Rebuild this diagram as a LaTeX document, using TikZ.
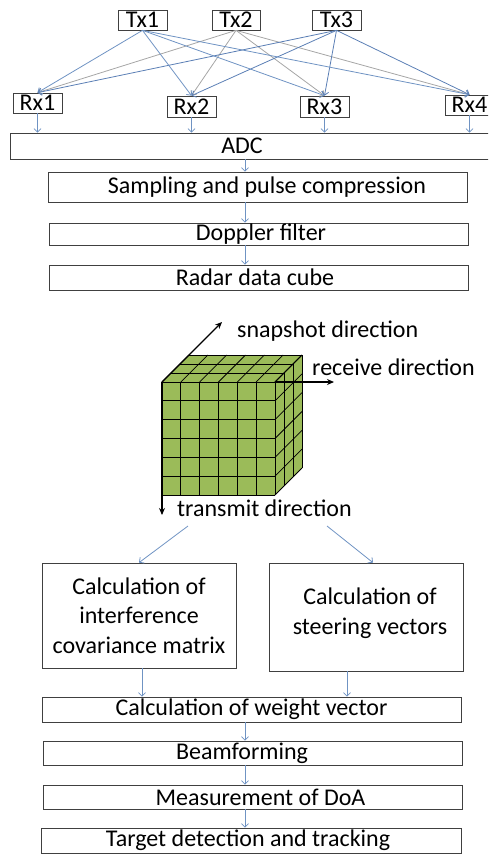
\documentclass[tikz,border=0pt]{standalone}
\usepackage{fontspec}
\setmainfont{Carlito}
\usetikzlibrary{arrows.meta}
\definecolor{lblue}{HTML}{6F93C3}
\definecolor{dblue}{HTML}{5B7FB5}
\definecolor{lgray}{HTML}{A6A6A6}
\definecolor{cgreen}{HTML}{9BBB59}
\definecolor{bdr}{HTML}{404040}
\begin{document}
\begin{tikzpicture}[x=1pt,y=-1pt,
  txt/.style={font=\fontsize{24}{29.5}\selectfont, inner sep=0pt},
  box/.style={draw=bdr, line width=0.7pt, inner sep=0pt, txt},
  conn/.style={draw=lblue, line width=0.8pt, -{Straight Barb[length=3.5pt,width=7pt]}},
  gconn/.style={draw=lgray, line width=0.8pt, -{Straight Barb[length=3.5pt,width=7pt]}},
  bconn/.style={draw=dblue, line width=0.8pt, -{Straight Barb[length=3.5pt,width=7pt]}},
  axis/.style={draw=black, line width=1.1pt, -{Stealth[length=7pt,width=6pt]}},
  grid/.style={draw=black, line width=0.8pt}]
\useasboundingbox (0,0) rectangle (488,854);
\clip (0,0) rectangle (488,854);
% transmitters and receivers
\node[box, minimum width=49pt, minimum height=20pt] (tx1) at (142.5,20) {Tx1};
\node[box, minimum width=48pt, minimum height=20pt] (tx2) at (236,20) {Tx2};
\node[box, minimum width=49pt, minimum height=20pt] (tx3) at (336.5,20) {Tx3};
\node[box, minimum width=49pt, minimum height=20pt] (rx1) at (37.5,103) {Rx1};
\node[box, minimum width=49pt, minimum height=21pt] (rx2) at (191.5,106.5) {Rx2};
\node[box, minimum width=49pt, minimum height=21pt] (rx3) at (324.5,106.5) {Rx3};
\node[box, minimum width=49pt, minimum height=20pt] (rx4) at (469.5,105) {Rx4};
\foreach \r in {rx1,rx2,rx3,rx4}{
  \draw[gconn] (tx2.south) -- (\r.north);
}
\foreach \r in {rx1,rx2,rx3,rx4}{
  \draw[conn] (tx1.south) -- (\r.north);
  \draw[bconn] (tx3.south) -- (\r.north);
}
% processing chain
\node[box, minimum width=490pt, minimum height=26pt] (adc) at (255,146) {};
\node[txt] (adct) at (242,146) {ADC};
\node[box, minimum width=419pt, minimum height=30pt] (samp) at (257.5,187) {};
\node[txt] (sampt) at (267,187) {Sampling and pulse compression};
\node[box, minimum width=419pt, minimum height=22pt] (dop) at (258.5,234) {};
\node[txt] (dopt) at (261,234) {Doppler filter};
\node[box, minimum width=419pt, minimum height=25pt] (cube) at (258.5,277.5) {};
\node[txt] (cubet) at (255,277.5) {Radar data cube};
\foreach \r in {rx1,rx2,rx3,rx4}{
  \draw[conn] (\r.south) -- (\r.south |- adc.north);
}
\coordinate (cx) at (245,0);
\draw[conn] (cx |- adc.south) -- (cx |- samp.north);
\draw[conn] (cx |- samp.south) -- (cx |- dop.north);
\draw[conn] (cx |- dop.south) -- (cx |- cube.north);
% data cube
\def\s{18.8333}
\fill[cgreen] (162,382) -- (275,382) -- (302,355) -- (189,355) -- cycle;
\fill[cgreen] (275,382) -- (302,355) -- (302,468) -- (275,495) -- cycle;
\fill[cgreen] (162,382) rectangle (275,495);
\foreach \i in {0,...,6}{
  \draw[grid] (162+\i*\s,382) -- (162+\i*\s,495);
  \draw[grid] (162,382+\i*\s) -- (275,382+\i*\s);
  \draw[grid] (162+\i*\s,382) -- (189+\i*\s,355);
  \draw[grid] (275,382+\i*\s) -- (302,355+\i*\s);
}
\foreach \k in {1,2,3}{
  \draw[grid] (162+9*\k,382-9*\k) -- (275+9*\k,382-9*\k);
  \draw[grid] (275+9*\k,382-9*\k) -- (275+9*\k,495-9*\k);
}
\coordinate (c0) at (162,382);
\coordinate (c1) at (275,382);
\coordinate (snapend) at (222,322);
\coordinate (recvend) at (334,382);
\coordinate (transend) at (162,515);
\draw[axis] (c0) -- (snapend);
\draw[axis] (c1) -- (recvend);
\draw[axis] (c0) -- (transend);
\node[txt, anchor=west] (snapt) at (237,331) {snapshot direction};
\node[txt, anchor=west] (recvt) at (312,367) {receive direction};
\node[txt, anchor=west] (transt) at (177,508) {transmit direction};
% beamforming chain
\coordinate (splitl) at (188,526);
\coordinate (splitr) at (327,526);
\node[box, minimum width=194pt, minimum height=105pt, align=center] (cov) at (139,615.5) {Calculation of\\interference\\covariance matrix};
\node[box, minimum width=194pt, minimum height=108pt] (steer) at (366,617) {};
\node[txt, align=center] (steert) at (370,613) {Calculation of\\steering vectors};
\draw[conn] (splitl) -- (cov.north);
\draw[conn] (splitr) -- ([xshift=7pt]steer.north);
\node[box, minimum width=419pt, minimum height=25pt] (wv) at (251.5,709.5) {Calculation of weight vector};
\node[box, minimum width=419pt, minimum height=24pt] (bf) at (252.5,753) {};
\node[txt] (bft) at (242,753) {Beamforming};
\node[box, minimum width=419pt, minimum height=24pt] (doa) at (252.5,797) {};
\node[txt] (doat) at (260.5,797) {Measurement of DoA};
\node[box, minimum width=420pt, minimum height=25pt] (tgt) at (251,840.5) {};
\node[txt] (tgtt) at (248,840.5) {Target detection and tracking};
\draw[conn] ([xshift=3pt]cov.south) -- ([xshift=3pt]cov.south |- wv.north);
\draw[conn] ([xshift=-19pt]steer.south) -- ([xshift=-19pt]steer.south |- wv.north);
\draw[conn] (cx |- wv.south) -- (cx |- bf.north);
\draw[conn] (cx |- bf.south) -- (cx |- doa.north);
\draw[conn] (cx |- doa.south) -- (cx |- tgt.north);
\end{tikzpicture}
\end{document}
